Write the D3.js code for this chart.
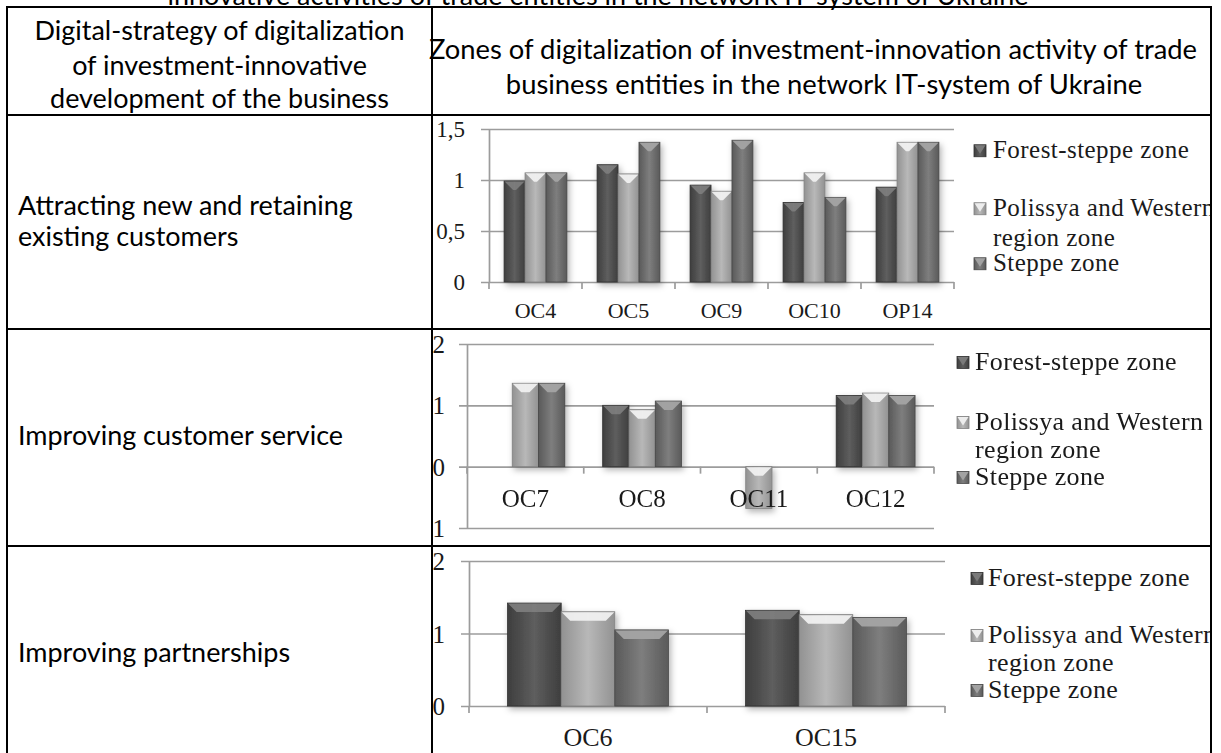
<!DOCTYPE html>
<html><head><meta charset="utf-8">
<script src="https://cdn.jsdelivr.net/npm/d3@7"></script>
<style>html,body{margin:0;padding:0;background:#fff;overflow:hidden}</style>
</head><body>
<svg id="c" width="1221" height="753" xmlns="http://www.w3.org/2000/svg"></svg>
<script>
// ---------- data ----------
const seriesNames = ["Forest-steppe zone", "Polissya and Western region zone", "Steppe zone"];
const legendLines = [["Forest-steppe zone"], ["Polissya and Western", "region zone"], ["Steppe zone"]];
const pageTitle = "innovative activities of trade entities in the network IT-system of Ukraine";
const headerLeft = ["Digital-strategy of digitalization", "of investment-innovative", "development of the business"];
const headerRight = ["Zones of digitalization of investment-innovation activity of trade", "business entities in the network IT-system of Ukraine"];
const strategies = [["Attracting new and retaining", "existing customers"], ["Improving customer service"], ["Improving partnerships"]];

const cats1 = ["OC4", "OC5", "OC9", "OC10", "OP14"];
const forest1 = [0.99, 1.15, 0.95, 0.78, 0.93];
const polissya1 = [1.07, 1.06, 0.89, 1.07, 1.37];
const steppe1 = [1.07, 1.37, 1.39, 0.83, 1.37];
const ticks1 = [0, 0.5, 1, 1.5];
const tickLabels1 = ["0", "0,5", "1", "1,5"];

const cats2 = ["OC7", "OC8", "OC11", "OC12"];
const forest2 = [null, 1.0, null, 1.16];
const polissya2 = [1.36, 0.93, -0.68, 1.20];
const steppe2 = [1.36, 1.07, null, 1.16];
const ticks2 = [-1, 0, 1, 2];
const tickLabels2 = ["-1", "0", "1", "2"];

const cats3 = ["OC6", "OC15"];
const forest3 = [1.42, 1.32];
const polissya3 = [1.30, 1.26];
const steppe3 = [1.05, 1.22];
const ticks3 = [0, 1, 2];
const tickLabels3 = ["0", "1", "2"];

// ---------- setup ----------
const svg = d3.select("#c");
const defs = svg.append("defs");
const SANS = "Lato, 'Open Sans', sans-serif";
const SERIF = "'Liberation Serif', 'Times New Roman', serif";

const bodyStops = [["#3e3e3e", "#5e5e5e", "#3e3e3e"], ["#929292", "#b8b8b8", "#929292"], ["#5a5a5a", "#7e7e7e", "#5a5a5a"]];
const bevelCol = ["#7c7c7c", "#f0f0f0", "#a4a4a4"];
const strokeCol = ["#303030", "#808080", "#474747"];
bodyStops.forEach((s, i) => {
  const g = defs.append("linearGradient").attr("id", "g" + i).attr("x1", "0").attr("x2", "1").attr("y1", "0").attr("y2", "0");
  g.append("stop").attr("offset", "0").attr("stop-color", s[0]);
  g.append("stop").attr("offset", "0.5").attr("stop-color", s[1]);
  g.append("stop").attr("offset", "1").attr("stop-color", s[2]);
});
const flt = defs.append("filter").attr("id", "sh").attr("x", "-40%").attr("y", "-20%").attr("width", "180%").attr("height", "150%");
flt.append("feDropShadow").attr("dx", 2).attr("dy", 3).attr("stdDeviation", 3).attr("flood-color", "#000").attr("flood-opacity", 0.3);

// table geometry
const TX0 = 7, TXD = 432, TX1 = 1211;
const rowY = [7, 115, 329, 546, 770];

rowY.slice(1, 4).forEach((y0, i) => {
  defs.append("clipPath").attr("id", "clip" + i).append("rect")
    .attr("x", TXD + 1).attr("y", y0 + 1).attr("width", TX1 - TXD - 2).attr("height", rowY[i + 2] - y0 - 2);
});

// font size fitted for the Calibri-like text
const probe = svg.append("text").attr("font-family", SANS).attr("font-size", 100).text(headerLeft[0]);
const pw = probe.node().getComputedTextLength();
probe.remove();
const fsSans = 100 * 370 / pw;

// ---------- texts ----------
svg.append("text").attr("x", 598).attr("y", 5).attr("text-anchor", "middle")
  .attr("font-family", SANS).attr("font-size", fsSans).attr("fill", "#000").text(pageTitle);

const hcx = (TX0 + TXD) / 2;
[40, 75, 108].forEach((b, i) => {
  svg.append("text").attr("x", hcx).attr("y", b).attr("text-anchor", "middle")
    .attr("font-family", SANS).attr("font-size", fsSans).text(headerLeft[i]);
});
[[813, 59], [824, 94]].forEach((p, i) => {
  svg.append("text").attr("x", p[0]).attr("y", p[1]).attr("text-anchor", "middle")
    .attr("font-family", SANS).attr("font-size", fsSans * 1.015).text(headerRight[i]);
});
const stratBase = [[215, 246], [445], [662]];
strategies.forEach((lines, r) => {
  lines.forEach((t, k) => {
    svg.append("text").attr("x", 18).attr("y", stratBase[r][k])
      .attr("font-family", SANS).attr("font-size", fsSans).text(t);
  });
});

// ---------- charts ----------
const charts = [
  { cats: cats1, vals: [forest1, polissya1, steppe1], ticks: ticks1, labels: tickLabels1, domain: [0, 1.5],
    x0: 489, x1: 954, yTop: 129, yBot: 282, labelRight: 465, catBase: 318, fsY: 23, fsX: 22,
    leg: { mx: 974, tx: 993, fs: 25, ls: 0.45, base: [[158], [216, 246], [271]] }, clip: "clip0" },
  { cats: cats2, vals: [forest2, polissya2, steppe2], ticks: ticks2, labels: tickLabels2, domain: [-1, 2],
    x0: 467, x1: 934, yTop: 344, yBot: 528, labelRight: 445, catBase: 507, fsY: 25, fsX: 25,
    leg: { mx: 957, tx: 975, fs: 26, ls: 0.35, base: [[370], [430, 458], [485]] }, clip: "clip1" },
  { cats: cats3, vals: [forest3, polissya3, steppe3], ticks: ticks3, labels: tickLabels3, domain: [0, 2],
    x0: 469, x1: 945, yTop: 561, yBot: 706, labelRight: 445, catBase: 746, fsY: 25, fsX: 26,
    leg: { mx: 971, tx: 988, fs: 26, ls: 0.35, base: [[586], [643, 671], [698]] }, clip: "clip2" }
];

function barShape(g, x, y, w, h, s) {
  g.append("rect").attr("x", x).attr("y", y).attr("width", w).attr("height", h)
    .attr("fill", `url(#g${s})`).attr("stroke", strokeCol[s]).attr("stroke-width", 0.8);
  const d = Math.min(9, h);
  const inset = Math.min(d, w / 2);
  g.append("polygon")
    .attr("points", [[x + 0.5, y + 0.5], [x + w - 0.5, y + 0.5], [x + w - inset, y + d], [x + inset, y + d]].map(p => p.join(",")).join(" "))
    .attr("fill", bevelCol[s]).attr("opacity", 0.95);
}

charts.forEach(cfg => {
  const g = svg.append("g").attr("clip-path", `url(#${cfg.clip})`);
  const x = d3.scaleBand().domain(cfg.cats).range([cfg.x0, cfg.x1]).paddingInner(0).paddingOuter(0);
  const xi = d3.scaleBand().domain([0, 1, 2]).range([0, x.bandwidth()]).paddingInner(0).paddingOuter(0.72);
  const y = d3.scaleLinear().domain(cfg.domain).range([cfg.yBot, cfg.yTop]);

  // y axis with gridlines
  const ya = g.append("g").attr("transform", `translate(${cfg.x0},0)`)
    .call(d3.axisLeft(y).tickValues(cfg.ticks).tickFormat((d, i) => cfg.labels[i])
      .tickSizeInner(-(cfg.x1 - cfg.x0)).tickSizeOuter(0).tickPadding(cfg.x0 - cfg.labelRight));
  ya.select(".domain").attr("stroke", "#9c9c9c").attr("stroke-width", 1.7);
  ya.selectAll(".tick line").attr("x1", -8).attr("stroke", "#9c9c9c").attr("stroke-width", 1.7);
  ya.selectAll(".tick text").attr("font-family", SERIF).attr("font-size", cfg.fsY).attr("fill", "#1a1a1a").attr("dy", "0.34em");

  // category tick marks at band boundaries
  const bounds = cfg.cats.map(c => x(c)).concat([cfg.x1]);
  g.selectAll(".ct").data(bounds).enter().append("line")
    .attr("x1", d => d).attr("x2", d => d).attr("y1", y(0)).attr("y2", y(0) + 7)
    .attr("stroke", "#9c9c9c").attr("stroke-width", 1.7);

  // bars
  const bg = g.append("g").attr("filter", "url(#sh)");
  cfg.cats.forEach((c, ci) => {
    cfg.vals.forEach((arr, s) => {
      const v = arr[ci];
      if (v === null || v === undefined) return;
      const yv = y(v), y0 = y(0);
      const top = Math.min(yv, y0), h = Math.abs(yv - y0);
      barShape(bg, x(c) + xi(s), top, xi.bandwidth(), h, s);
    });
  });

  // category labels (drawn over bars)
  g.selectAll(".cl").data(cfg.cats).enter().append("text")
    .attr("x", d => x(d) + x.bandwidth() / 2).attr("y", cfg.catBase).attr("text-anchor", "middle")
    .attr("font-family", SERIF).attr("font-size", cfg.fsX).attr("fill", "#1a1a1a").text(d => d);

  // legend
  const lg = g.append("g");
  legendLines.forEach((lines, s) => {
    const b = cfg.leg.base[s];
    const ms = 12;
    barShape(lg, cfg.leg.mx, b[0] - cfg.leg.fs * 0.33 - ms / 2 + 1, ms, ms, s);
    lines.forEach((t, k) => {
      lg.append("text").attr("x", cfg.leg.tx).attr("y", b[k])
        .attr("font-family", SERIF).attr("font-size", cfg.leg.fs).attr("letter-spacing", cfg.leg.ls)
        .attr("fill", "#1a1a1a").text(t);
    });
  });
});

// ---------- table lines ----------
const tl = svg.append("g").attr("stroke", "#000").attr("stroke-width", 2);
[TX0, TXD, TX1].forEach(xv => tl.append("line").attr("x1", xv).attr("x2", xv).attr("y1", rowY[0]).attr("y2", 753));
rowY.slice(0, 4).forEach(yv => tl.append("line").attr("x1", TX0 - 1).attr("x2", TX1 + 1).attr("y1", yv).attr("y2", yv));
</script>
</body></html>
